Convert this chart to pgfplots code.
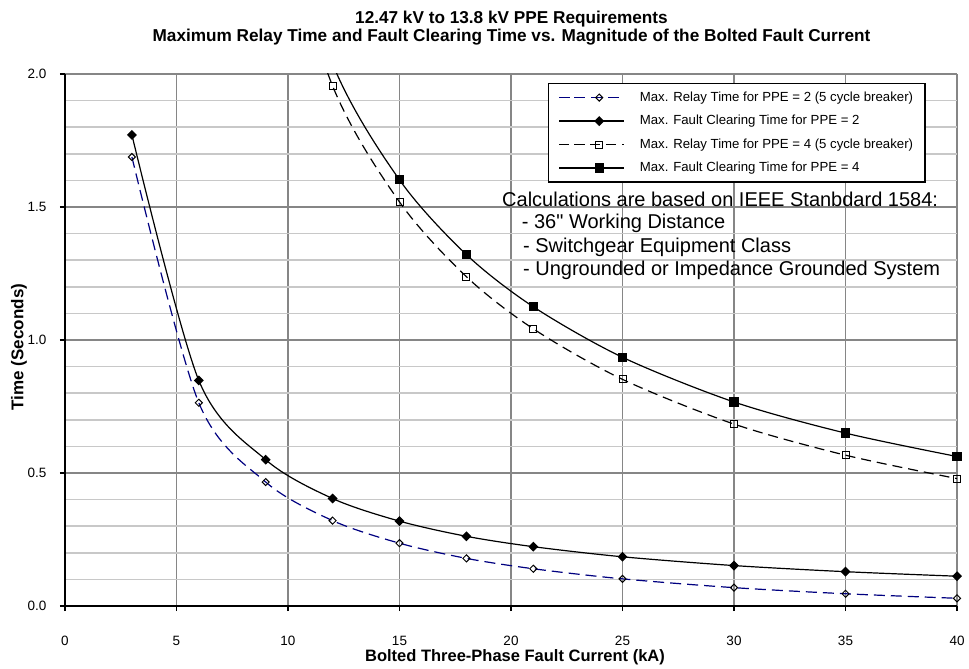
\documentclass[border=0pt]{standalone}
\usepackage{fontspec}
\setmainfont{Liberation Sans}
\usepackage{pgfplots}
\pgfplotsset{compat=1.18}
\definecolor{gridmaj}{RGB}{134,134,134}
\definecolor{gridmin}{RGB}{200,200,200}
\definecolor{relayblue}{RGB}{0,0,128}

\begin{document}
\begin{tikzpicture}
\path (-65pt,-63pt) rectangle (904pt,606pt);
\begin{axis}[
    at={(0,0)}, anchor=south west,
    scale only axis, width=892pt, height=532pt,
    xmin=0, xmax=40, ymin=0, ymax=2,
    xtick={0,5,...,40},
    ytick={0,0.5,1,1.5,2},
    minor ytick={0.1,0.2,0.3,0.4,0.6,0.7,0.8,0.9,1.1,1.2,1.3,1.4,1.6,1.7,1.8,1.9},
    grid=both,
    major grid style={gridmaj, line width=1.3pt},
    minor grid style={gridmin, line width=1.5pt},
    axis x line*=bottom, axis y line*=left,
    axis line style={black, line width=1.6pt, -},
    tick align=outside, major tick length=5pt, minor tick length=0pt,
    tick style={black, line width=1.4pt},
    /pgf/number format/assume math mode=true,
    yticklabel style={/pgf/number format/fixed, /pgf/number format/fixed zerofill,
        /pgf/number format/precision=1, xshift=-10pt},
    ticklabel style={font=\fontsize{13.5}{16}\selectfont},
    xticklabel style={yshift=-22pt},
    legend cell align=left,
    legend style={at={(0.5415,0.9831)}, anchor=north west, draw=black, line width=1.2pt,
        fill=white, font=\fontsize{13.2}{15}\selectfont, inner xsep=10pt, inner ysep=6pt,
        row sep=7.5pt, column sep=13pt,
        nodes={inner sep=2pt, text height=9.5pt, text depth=2.5pt}},
    legend image code/.code={
        \path (-15pt,0pt) -- (0pt,0pt);
        \draw[mark repeat=2, mark phase=2, #1] plot coordinates {(0pt,0pt) (25pt,0pt) (50pt,0pt)};
    },
]
% PPE = 2, relay time (5 cycle breaker)
\addplot[relayblue, line width=1.2pt, dash pattern=on 11pt off 6pt, smooth,
    mark=square, mark size=2.5pt, mark options={black, solid, rotate=45, line width=1pt, fill=none}]
    coordinates {(3,1.688) (6,0.764) (9,0.466) (12,0.321) (15,0.236) (18,0.179) (21,0.140) (25,0.102) (30,0.069) (35,0.046) (40,0.029)};
% PPE = 2, fault clearing time
\addplot[black, line width=1.2pt, smooth,
    mark=square*, mark size=2.9pt, mark options={black, solid, rotate=45}]
    coordinates {(3,1.771) (6,0.848) (9,0.550) (12,0.404) (15,0.319) (18,0.262) (21,0.223) (25,0.185) (30,0.152) (35,0.129) (40,0.112)};
% PPE = 4, relay time (5 cycle breaker)
\addplot[black, line width=1.2pt, dash pattern=on 10pt off 6pt, smooth,
    mark=square, mark size=3.5pt, mark options={black, solid, line width=1pt, fill=none}]
    coordinates {(9,2.75) (12,1.955) (15,1.519) (18,1.238) (21,1.042) (25,0.852) (30,0.684) (35,0.567) (40,0.479)};
% PPE = 4, fault clearing time
\addplot[black, line width=1.2pt, smooth,
    mark=square*, mark size=4pt, mark options={black, solid}]
    coordinates {(9,2.83) (12,2.038) (15,1.602) (18,1.321) (21,1.125) (25,0.935) (30,0.767) (35,0.650) (40,0.562)};
\legend{Max. Relay Time for PPE = 2 (5 cycle breaker),
        Max. Fault Clearing Time for PPE = 2,
        Max. Relay Time for PPE = 4 (5 cycle breaker),
        Max. Fault Clearing Time for PPE = 4}
\end{axis}

% titles and labels
\node[anchor=base, inner sep=0pt, font=\bfseries\fontsize{17.2}{19}\selectfont] at (446.5pt,582pt) {12.47 kV to 13.8 kV PPE Requirements};
\node[anchor=base, inner sep=0pt, font=\bfseries\fontsize{17.2}{19}\selectfont] at (446.5pt,564.5pt) {Maximum Relay Time and Fault Clearing Time vs. Magnitude of the Bolted Fault Current};
\node[anchor=base, inner sep=0pt, font=\bfseries\fontsize{16.5}{19}\selectfont] at (450pt,-56pt) {Bolted Three-Phase Fault Current (kA)};
\node[anchor=base, rotate=90, inner sep=0pt, font=\bfseries\fontsize{17}{19}\selectfont] at (-41.7pt,259pt) {Time (Seconds)};

% annotation
\begin{scope}[every node/.style={anchor=base west, inner sep=0pt, font=\fontsize{20}{23}\selectfont}]
\node at (437pt,399.3pt) {Calculations are based on IEEE Stanbdard 1584:};
\node at (456.7pt,377pt) {- 36{\addfontfeatures{Ligatures=TeXOff}"} Working Distance};
\node at (458pt,353pt) {- Switchgear Equipment Class};
\node at (458pt,330pt) {- Ungrounded or Impedance Grounded System};
\end{scope}
\end{tikzpicture}
\end{document}
